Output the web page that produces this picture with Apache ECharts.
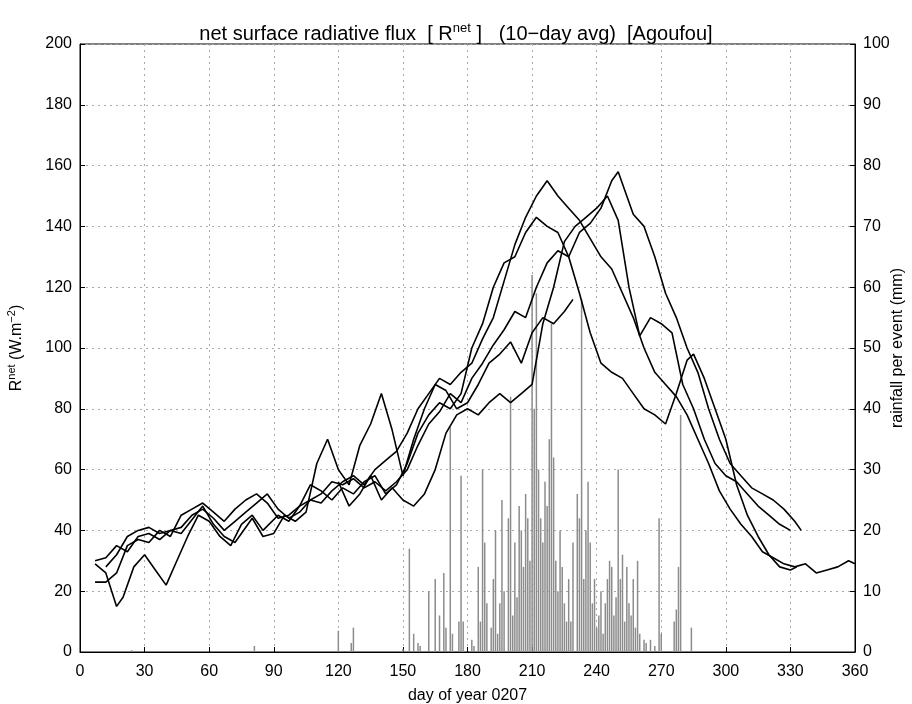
<!DOCTYPE HTML>
<html>
<head>
<title>net surface radiative flux - Agoufou</title>
<script src="https://cdn.jsdelivr.net/npm/echarts@6.0.0/dist/echarts.min.js"></script>
<style>body{margin:0;background:#fff}</style>
</head>
<body>
<div id="main" style="width:912px;height:704px;"></div>
<script type="text/javascript">

    // net radiation series, [day, W/m2]
    var lineA = [[7,30],[12,31],[17,35],[22,33],[27,38],[32,39],[37,37],[42,40],[47,41],[52,45],[57,47],[62,44],[67,40],[72,43],[77,46],[82,49],[87,52],[92,47],[97,44],[102,46],[107,50],[112,52],[117,56],[122,55],[127,57],[132,54],[137,56],[142,53],[147,56],[152,60],[157,68],[162,75],[167,79],[172,85],[177,82],[182,90],[187,95],[192,101],[197,106],[202,112],[207,110],[212,120],[217,128],[222,132],[227,130],[232,138],[237,141],[242,146],[247,155],[250,158],[253,152],[257,144],[262,140],[267,130],[272,118],[277,110],[282,100],[287,92],[292,80],[297,70],[302,62],[307,58],[312,54],[317,52],[322,50],[327,47],[332,43],[335,40]];
    var lineB = [[7,23],[12,23],[17,26],[22,35],[27,37],[32,36],[37,40],[42,38],[47,45],[52,47],[57,49],[62,46],[67,43],[72,47],[77,50],[82,52],[87,49],[92,44],[97,45],[102,48],[107,50],[112,49],[117,53],[122,56],[127,58],[132,55],[137,60],[142,63],[147,66],[152,72],[157,80],[162,85],[167,90],[172,88],[177,92],[182,95],[187,103],[192,110],[197,122],[202,134],[207,143],[212,150],[217,155],[222,150],[227,146],[232,142],[237,136],[242,130],[247,126],[252,118],[257,110],[262,100],[267,92],[272,88],[277,84],[282,78],[287,70],[292,62],[297,53],[302,47],[307,42],[312,38],[317,33],[322,31],[327,29],[332,28],[337,29],[342,26],[347,27],[352,28],[357,30],[360,29]];
    var lineC = [[7,29],[12,26],[17,15],[20,18],[25,28],[30,32],[35,27],[40,22],[45,30],[50,38],[55,45],[60,43],[65,38],[70,35],[75,42],[80,45],[85,40],[92,45],[97,43],[102,48],[107,55],[112,53],[117,50],[122,54],[127,52],[132,56],[137,58],[142,52],[147,55],[152,62],[157,72],[162,78],[167,82],[172,80],[177,85],[182,100],[187,108],[192,120],[197,128],[202,130],[207,138],[212,143],[217,140],[222,138],[227,130],[232,118],[237,105],[242,95],[247,92],[252,90],[257,85],[262,80],[267,78],[272,75],[277,85],[282,96],[285,98],[290,90],[295,80],[300,70],[305,55],[310,45],[315,38],[320,32],[325,28],[330,27],[333,28]];
    var lineD = [[12,28],[17,32],[22,38],[27,40],[32,41],[37,39],[42,40],[47,39],[57,48],[62,42],[67,38],[72,36],[80,44],[85,38],[90,39],[95,45],[100,43],[105,46],[110,62],[115,70],[120,60],[125,55],[130,68],[135,75],[140,85],[145,73],[150,58],[155,70],[160,80],[165,88],[170,86],[175,80],[180,82],[185,88],[190,95],[195,98],[200,102],[205,95],[210,105],[215,110],[220,108],[225,112],[229,116]];
    var lineE = [[120,56],[125,48],[130,52],[135,58],[140,50],[145,54],[150,50],[155,48],[160,52],[165,60],[170,72],[175,78],[180,80],[185,78],[190,82],[195,85],[200,82],[205,85],[210,88],[215,108],[220,120],[225,135],[230,140],[235,143],[240,146],[245,150],[250,142],[255,120],[260,104],[265,110],[270,108],[275,105],[280,88],[285,80],[290,70],[295,62],[300,58],[305,56],[310,52],[315,48],[320,45],[325,42],[330,40]];

    // rainfall per event, [day, mm]
    var rain = [[24,0.3],[81,1],[120,3.5],[126,1.5],[127,4],[150,0.5],[153,17],[155,3],[157,1.5],[158,1],[162,10],[165,12],[167,6],[169,13],[170,4],[172,37],[173,3],[176,5],[177,29],[178,5],[182,2],[183,1],[185,14],[186,5],[187,30],[188,18],[189,8],[191,4],[192,12],[193,20],[194,3],[195,8],[196,25],[197,10],[199,22],[200,42],[201,6],[202,18],[203,9],[204,24],[205,20],[206,14],[207,26],[208,22],[209,15],[210,62],[211,40],[212,59],[213,30],[214,22],[215,18],[216,28],[217,24],[218,35],[219,54],[220,32],[221,15],[222,10],[223,20],[224,14],[225,8],[226,5],[227,12],[228,5],[229,18],[231,26],[232,22],[233,58],[234,12],[235,20],[236,28],[237,18],[238,8],[239,12],[240,4],[241,6],[242,10],[243,3],[244,8],[245,12],[246,15],[247,14],[248,6],[249,9],[250,30],[251,12],[252,16],[253,5],[254,14],[255,8],[256,6],[257,12],[258,4],[259,15],[260,3],[262,2],[263,1.5],[265,2],[267,1],[269,22],[270,3],[276,5],[277,7],[278,14],[279,39],[284,4]];

    var font = 'Liberation Sans';
    var chart = echarts.init(document.getElementById('main'));

    function lineSeries(d) {
        return { type: 'line', data: d, yAxisIndex: 0, showSymbol: false, z: 3,
                 lineStyle: { color: '#000', width: 1.6 } };
    }

    var option = {
        animation: false,
        textStyle: { fontFamily: font },
        title: {
            text: 'net surface radiative flux  [ R{sup|net} ]   (10\u2212day avg)  [Agoufou]',
            left: 'center', top: 12,
            textStyle: { fontFamily: font, fontWeight: 'normal', fontSize: 20, color: '#000',
                rich: { sup: { fontSize: 13, verticalAlign: 'top', padding: [0, 0, 10, 0], fontFamily: font } } }
        },
        grid: { left: 80, right: 57, top: 44, bottom: 52, show: true, borderColor: '#000', borderWidth: 1,
                outerBoundsMode: 'none', containLabel: false },
        xAxis: {
            type: 'value', min: 0, max: 360, interval: 30,
            name: 'day of year 0207', nameLocation: 'middle', nameGap: 30, nameMoveOverlap: false,
            nameTextStyle: { fontSize: 16, color: '#000' },
            axisLine: { lineStyle: { color: '#000' } },
            axisTick: { inside: true, length: 5, lineStyle: { color: '#000' } },
            axisLabel: { fontSize: 16, color: '#000', margin: 6 },
            splitLine: { lineStyle: { color: '#aaa', type: [2, 4] } }
        },
        yAxis: [{
            type: 'value', min: 0, max: 200, interval: 20,
            name: 'R{sup|net} (W.m{sup|\u22122})', nameLocation: 'middle', nameGap: 50, nameMoveOverlap: false,
            nameTextStyle: { fontSize: 16, color: '#000',
                rich: { sup: { fontSize: 11, verticalAlign: 'top', padding: [0, 0, 8, 0] } } },
            axisLine: { show: true, lineStyle: { color: '#000' } },
            axisTick: { inside: true, length: 5, lineStyle: { color: '#000' } },
            axisLabel: { fontSize: 16, color: '#000', margin: 8 },
            splitLine: { lineStyle: { color: '#aaa', type: [2, 4] } }
        }, {
            type: 'value', min: 0, max: 100, interval: 10,
            name: 'rainfall per event (mm)', nameLocation: 'middle', nameGap: 29, nameRotate: 90, nameMoveOverlap: false,
            nameTextStyle: { fontSize: 16, color: '#000' },
            axisLine: { show: true, lineStyle: { color: '#000' } },
            axisTick: { inside: true, length: 5, lineStyle: { color: '#000' } },
            axisLabel: { fontSize: 16, color: '#000', margin: 8 },
            splitLine: { show: false }
        }],
        series: [
            { type: 'bar', data: rain, yAxisIndex: 1, barWidth: 1.5, z: 2,
              itemStyle: { color: '#8c8c8c' } },
            lineSeries(lineA), lineSeries(lineB), lineSeries(lineC),
            lineSeries(lineD), lineSeries(lineE)
        ]
    };

    chart.setOption(option);

</script>
</body>
</html>
